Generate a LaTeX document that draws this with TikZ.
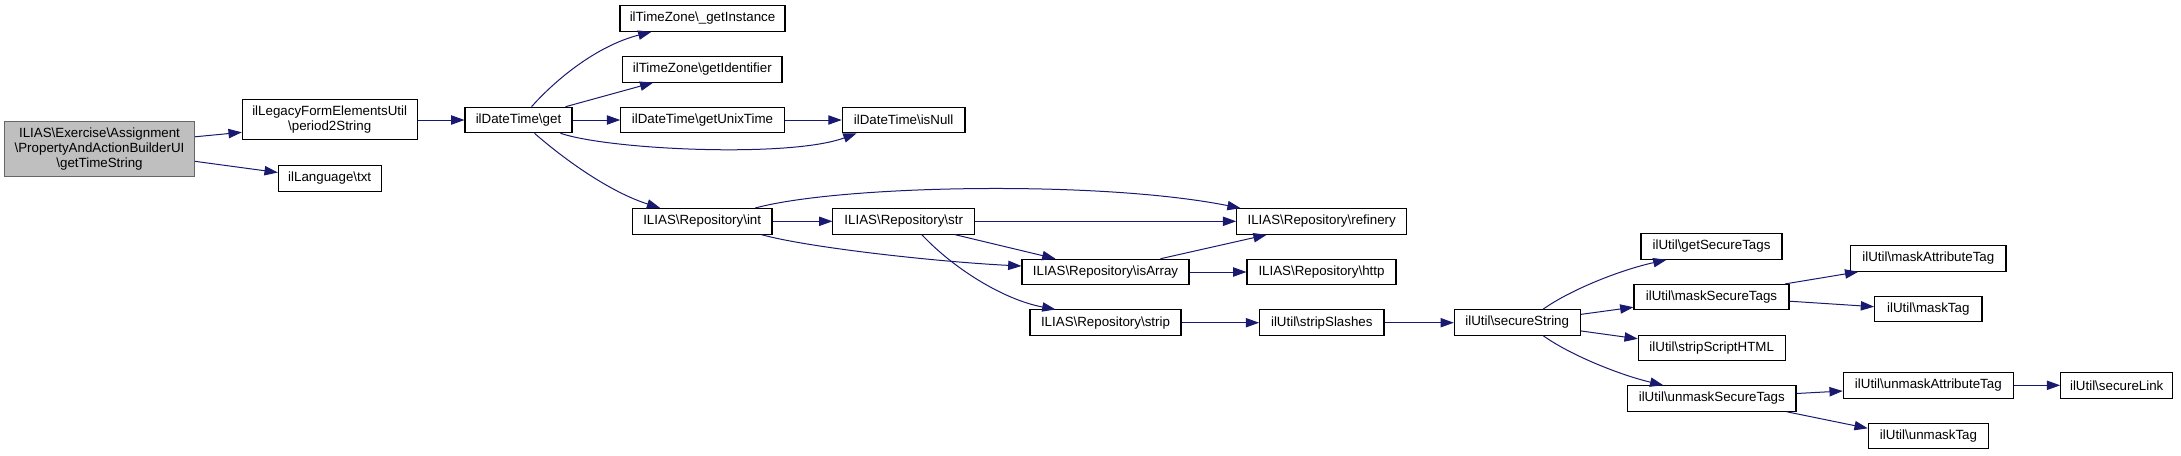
\documentclass[tikz,border=0pt]{standalone}
\usepackage{fontspec}
\setmainfont{Liberation Sans}
\usetikzlibrary{arrows.meta}
\definecolor{edgeblue}{HTML}{191970}
\definecolor{rootfill}{HTML}{BFBFBF}
\definecolor{rootdraw}{HTML}{666666}
\newcommand{\bs}{\textbackslash}
\begin{document}
\begin{tikzpicture}[x=0.75pt,y=-0.75pt,
  fbox/.style={draw=black,line width=0.8pt,fill=white,inner sep=0pt,
    minimum width={#1*0.75pt},minimum height={25.5*0.75pt},
    font=\fontsize{10}{11.25}\selectfont,align=center},
  rootbox/.style={fbox=#1,fill=rootfill,draw=rootdraw},
  call/.style={draw=edgeblue,line width=0.75pt,
    -{Triangle[length=10pt,width=7pt]},shorten >=0pt}]
\useasboundingbox (0,0) rectangle (2181,455);
% nodes
\node[rootbox=189.6,minimum height={55*0.75pt}] (main) at (99.5,149.3)
  {ILIAS\bs Exercise\bs Assignment\\\bs PropertyAndActionBuilderUI\\\bs getTimeString};
\node[fbox=174.7,minimum height={40.3*0.75pt}] (p2s) at (329.7,119.8)
  {ilLegacyFormElementsUtil\\\bs period2String};
\node[fbox=102.7] (txt) at (329.7,178.5) {ilLanguage\bs txt};
\node[fbox=107] (get) at (518.5,120) {ilDateTime\bs get};
\node[fbox=165] (gi) at (702.5,18.5) {ilTimeZone\bs\_getInstance};
\node[fbox=159.4] (gid) at (702.3,69.3) {ilTimeZone\bs getIdentifier};
\node[fbox=163.5] (gut) at (702.5,120) {ilDateTime\bs getUnixTime};
\node[fbox=122.8] (isnull) at (903.6,120) {ilDateTime\bs isNull};
\node[fbox=139.6] (int) at (702.2,221.3) {ILIAS\bs Repository\bs int};
\node[fbox=141.5] (str) at (903.7,221.3) {ILIAS\bs Repository\bs str};
\node[fbox=170] (ref) at (1321.7,221.5) {ILIAS\bs Repository\bs refinery};
\node[fbox=167] (isarr) at (1105.5,272) {ILIAS\bs Repository\bs isArray};
\node[fbox=149] (http) at (1321.5,272) {ILIAS\bs Repository\bs http};
\node[fbox=151] (strip) at (1105.5,322.7) {ILIAS\bs Repository\bs strip};
\node[fbox=124.3] (sslash) at (1321.8,322.7) {ilUtil\bs stripSlashes};
\node[fbox=125.7] (sstr) at (1517.2,322.4) {ilUtil\bs secureString};
\node[fbox=141] (gst) at (1711.5,246.5) {ilUtil\bs getSecureTags};
\node[fbox=155] (mst) at (1711.5,297.2) {ilUtil\bs maskSecureTags};
\node[fbox=146.7] (ssh) at (1711.7,347.8) {ilUtil\bs stripScriptHTML};
\node[fbox=168.3] (ust) at (1711.8,398.5) {ilUtil\bs unmaskSecureTags};
\node[fbox=155.3] (mat) at (1928.3,258.5) {ilUtil\bs maskAttributeTag};
\node[fbox=107.3] (mt) at (1928.3,309.2) {ilUtil\bs maskTag};
\node[fbox=170] (uat) at (1928.3,385.3) {ilUtil\bs unmaskAttributeTag};
\node[fbox=112] (sl) at (2116.7,385.3) {ilUtil\bs secureLink};
\node[fbox=120.4] (ut) at (1928.5,436) {ilUtil\bs unmaskTag};
% edges
\draw[call] ([shift={(0,-12.5)}]main.east) -- ([shift={(0,12.5)}]p2s.west);
\draw[call] ([shift={(0,12)}]main.east) -- ([shift={(0,-6)}]txt.west);
\draw[call] (p2s.east |- get.west) -- (get.west);
\draw[call] ([shift={(13,0)}]get.north) .. controls (560,75) and (600,45) .. ([shift={(-51,0)}]gi.south);
\draw[call] ([shift={(47,0)}]get.north) -- ([shift={(-49,0)}]gid.south);
\draw[call] (get.east) -- (gut.west);
\draw[call] ([shift={(42,0)}]get.south) .. controls (610,150) and (790,158) .. ([shift={(-47,0)}]isnull.south);
\draw[call] (gut.east) -- (isnull.west);
\draw[call] ([shift={(16,0)}]get.south) .. controls (565,160) and (610,192) .. ([shift={(-42,0)}]int.north);
\draw[call] (int.east) -- (str.west);
\draw[call] ([shift={(53,0)}]int.north) .. controls (840,185) and (1100,180) .. ([shift={(-81,0)}]ref.north);
\draw[call] (str.east) -- (str.east -| ref.west);
\draw[call] ([shift={(59,0)}]int.south) .. controls (810,248) and (940,262) .. ([shift={(0,-6)}]isarr.west);
\draw[call] ([shift={(51,0)}]str.south) -- ([shift={(-50,0)}]isarr.north);
\draw[call] ([shift={(18,0)}]str.south) .. controls (955,270) and (1005,300) .. ([shift={(-50,0)}]strip.north);
\draw[call] ([shift={(55,0)}]isarr.north) -- ([shift={(-55,0)}]ref.south);
\draw[call] (isarr.east) -- (http.west);
\draw[call] (strip.east) -- (sslash.west);
\draw[call] (sslash.east) -- (sslash.east -| sstr.west);
\draw[call] ([shift={(26,0)}]sstr.north) .. controls (1570,290) and (1620,270) .. ([shift={(-45,0)}]gst.south);
\draw[call] ([shift={(0,-8)}]sstr.east) -- ([shift={(0,10)}]mst.west);
\draw[call] ([shift={(0,8.5)}]sstr.east) -- ([shift={(0,-9)}]ssh.west);
\draw[call] ([shift={(26,0)}]sstr.south) .. controls (1570,355) and (1620,375) .. ([shift={(-48.5,0)}]ust.north);
\draw[call] ([shift={(73.5,0)}]mst.north) -- ([shift={(-70,0)}]mat.south);
\draw[call] ([shift={(0,4)}]mst.east) -- ([shift={(0,-2.5)}]mt.west);
\draw[call] ([shift={(0,-5)}]ust.east) -- ([shift={(0,5.7)}]uat.west);
\draw[call] ([shift={(75,0)}]ust.south) -- ([shift={(0,-7.7)}]ut.west);
\draw[call] (uat.east) -- (sl.west);
\end{tikzpicture}
\end{document}
